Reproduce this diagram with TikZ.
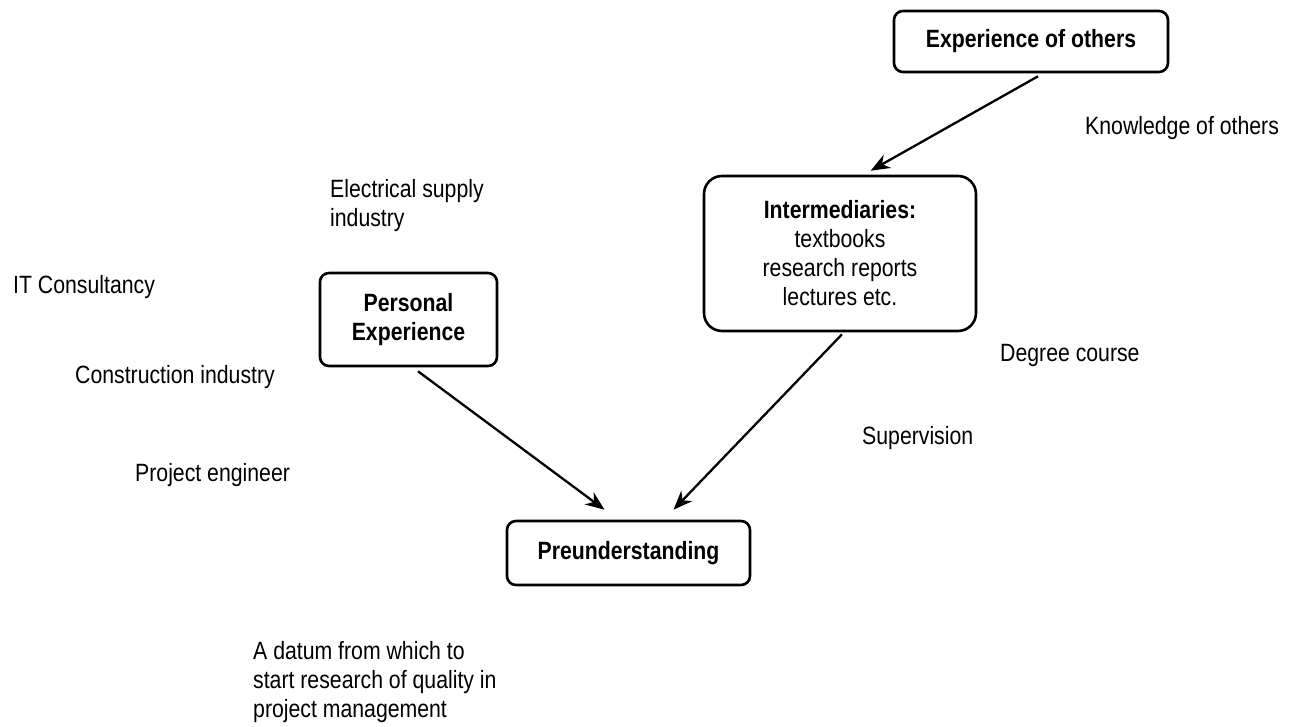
\documentclass[tikz,border=0pt]{standalone}
\usepackage{fontspec}
\setmainfont{Liberation Sans}[FakeStretch=0.85]
\usetikzlibrary{arrows.meta}
\newcommand{\labelfont}{\fontsize{25}{29}\selectfont}
\tikzset{
  box/.style={draw, line width=2.6pt, rounded corners=9pt, align=center,
    inner sep=0pt, font=\labelfont},
  lbl/.style={anchor=west, align=left, inner sep=0pt, font=\labelfont},
  arr/.style={-{Stealth[length=19pt,width=15pt,inset=6pt]}, line width=2.3pt},
}
\begin{document}
\begin{tikzpicture}[x=1pt, y=-1pt]
  \useasboundingbox (0,0) rectangle (1301,727);

  % boxes
  \node[box, minimum width=274pt, minimum height=61pt] (exp) at (1031,41.5)
    {\textbf{Experience of others}};
  \node[box, rounded corners=18pt, minimum width=272pt, minimum height=155pt] (int) at (840,253.5)
    {\textbf{Intermediaries:}\\textbooks\\research reports\\lectures etc.};
  \node[box, minimum width=177pt, minimum height=93pt] (pers) at (408.5,319.5)
    {\textbf{Personal}\\\textbf{Experience}};
  \node[box, minimum width=243pt, minimum height=64pt] (pre) at (628.5,553)
    {\textbf{Preunderstanding}};

  % connectors
  \draw[arr] ([xshift=7pt,yshift=-3pt]exp.south) -- ([xshift=168pt,yshift=4pt]int.north west);
  \draw[arr] ([xshift=2pt,yshift=-2pt]int.south) -- ([xshift=45pt,yshift=10pt]pre.north);
  \draw[arr] ([xshift=9.5pt,yshift=-4pt]pers.south) -- ([xshift=-24pt,yshift=10pt]pre.north);

  % free labels
  \node[lbl] (know) at (1085,128) {Knowledge of others};
  \node[lbl] (elec) at (330,206) {Electrical supply\\industry};
  \node[lbl] (itc) at (13,287) {IT Consultancy};
  \node[lbl] (cons) at (75,377) {Construction industry};
  \node[lbl] (proj) at (135,475) {Project engineer};
  \node[lbl] (deg) at (1000,355) {Degree course};
  \node[lbl] (sup) at (862,438) {Supervision};
  \node[lbl] (datum) at (253,682) {A datum from which to\\start research of quality in\\project management};
\end{tikzpicture}
\end{document}
